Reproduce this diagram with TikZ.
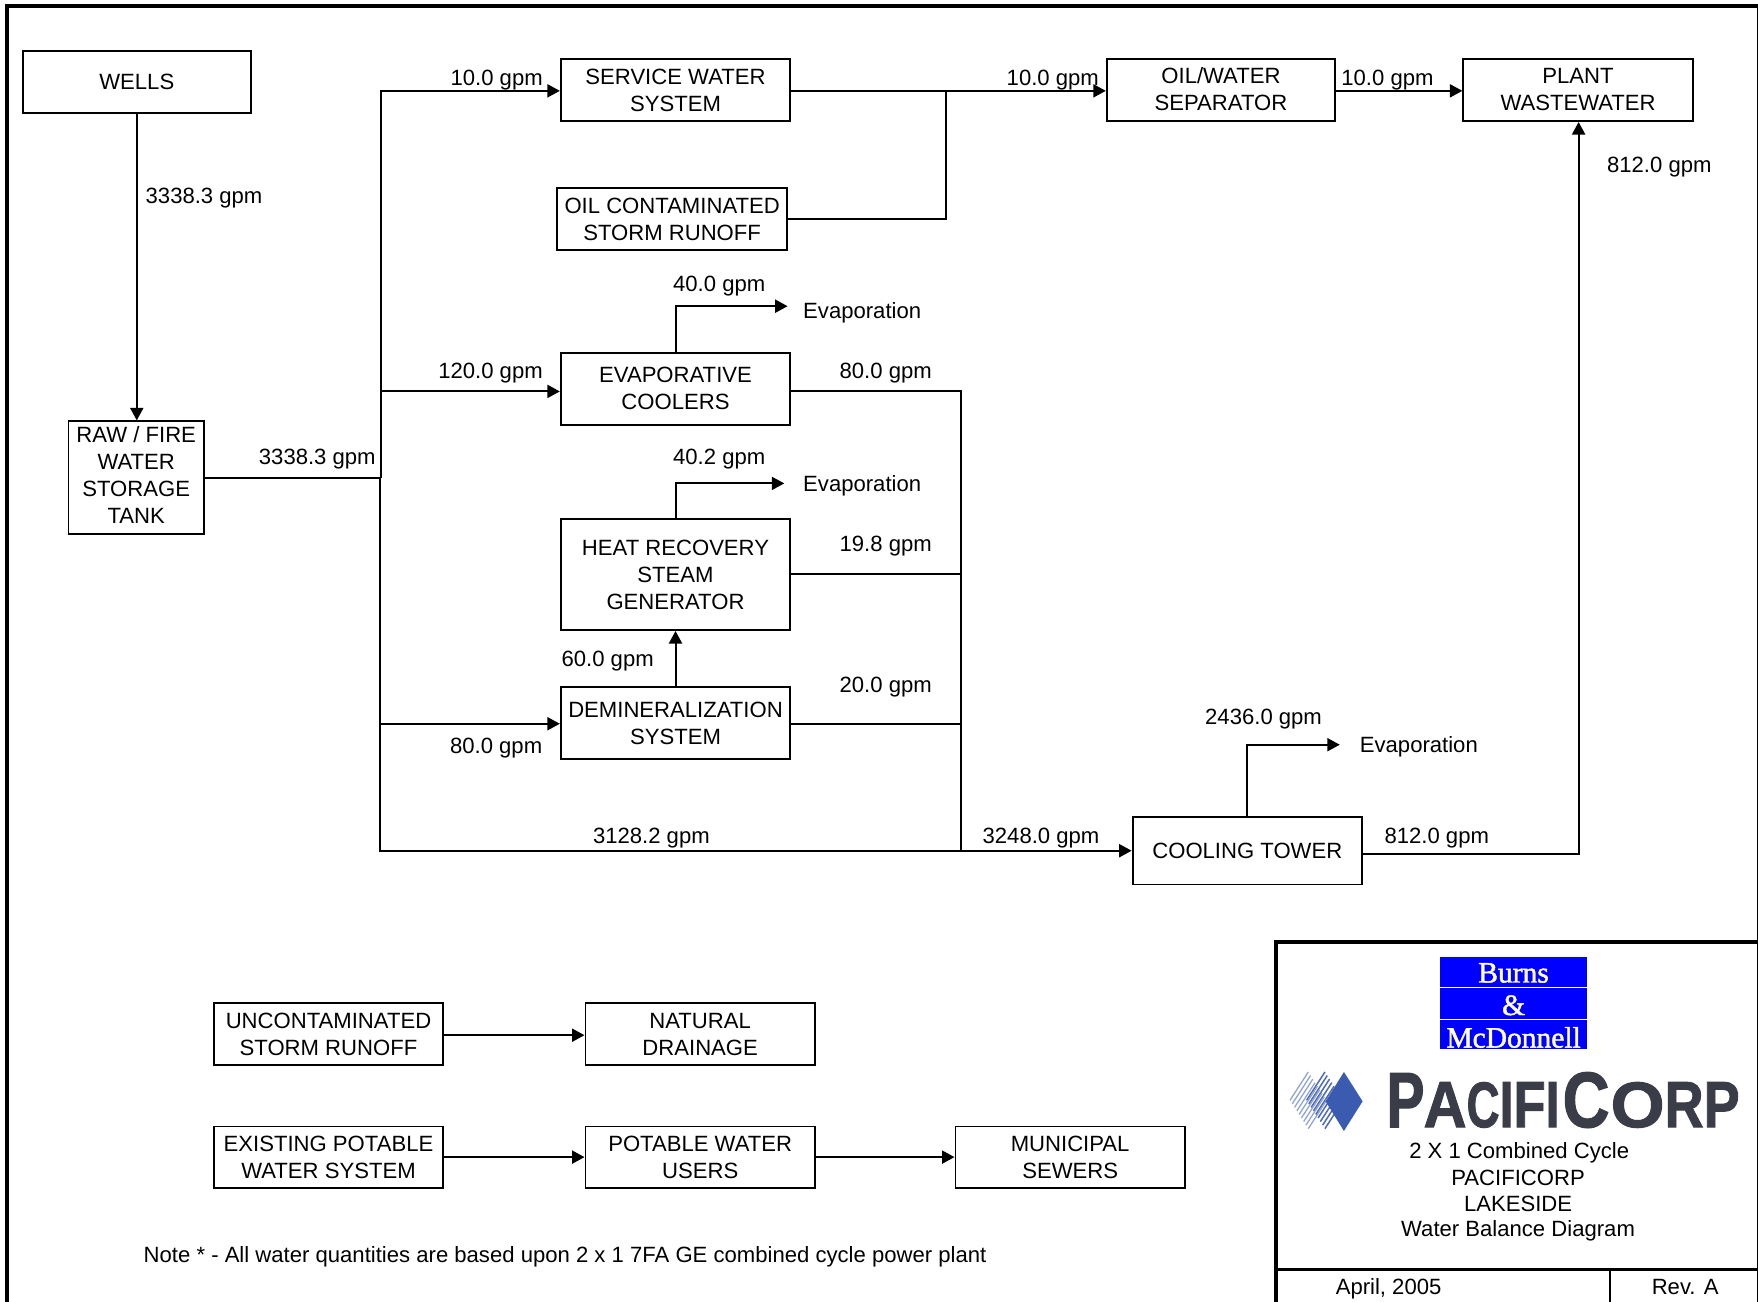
\documentclass[tikz,border=0pt]{standalone}
\usepackage{fontspec}
\usepackage{graphicx}
\setmainfont{Liberation Sans}
\newfontfamily\burnsfont[FakeBold=1.5]{Liberation Serif}
\newfontfamily\pcfont[FakeBold=1.5]{Liberation Sans}
\usetikzlibrary{arrows.meta,calc}
\definecolor{bmblue}{HTML}{0000FF}
\definecolor{pcgray}{HTML}{3A3D48}
\definecolor{pcblue}{HTML}{3A5BB0}
\tikzset{
  box/.style={draw=black,line width=1.9pt,fill=white,inner sep=0pt,align=center,font=\fontsize{22.1}{27}\selectfont},
  lab/.style={inner sep=0pt,font=\fontsize{22.1}{27}\selectfont,text height=16pt,text depth=4.6pt,yshift=-2pt},
  conn/.style={draw=black,line width=2pt,line join=miter},
  arr/.style={conn,-{Triangle[length=12.5pt,width=13pt]}},
  bmtxt/.style={inner sep=0pt,text=white,font=\burnsfont\fontsize{29.5}{30}\selectfont,text height=19pt,text depth=0pt},
  frameline/.style={draw=black,line cap=butt},
}
\newcommand{\boxat}[7]{%
  \node[box,minimum width=#4pt,minimum height=#5pt,#7] (#1) at (#2,#3) {#6};}
\newcommand{\pcl}[3]{\resizebox{#1pt}{#2pt}{#3}}
\begin{document}
\begin{tikzpicture}[x=1.12117pt,y=-1.12155pt]
\useasboundingbox (0,0) rectangle (1568,1160);
\begin{scope}
\clip (0,0) rectangle (1568,1160);
\fill[white] (0,0) rectangle (1568,1160);
% frame
\draw[frameline,line width=3.6pt] (6,1165) -- (6,5.1) -- (1570,5.1);
\draw[frameline,line width=2pt] (1567.6,5) -- (1567.6,1165);
% nodes
\boxat{wells}{122}{73.2}{228.4}{62.2}{WELLS}{}
\boxat{service}{602.5}{80.2}{229.4}{62.2}{SERVICE WATER\\SYSTEM}{}
\boxat{oilcont}{599.5}{195.2}{229.4}{62.2}{OIL CONTAMINATED\\STORM RUNOFF}{}
\boxat{oilwater}{1089}{80.2}{228.4}{62.2}{OIL/WATER\\SEPARATOR\rule[-2pt]{0pt}{1pt}}{}
\boxat{plant}{1407.5}{80.2}{229.4}{62.2}{PLANT\\WASTEWATER}{}
\boxat{evap}{602.5}{346.7}{229.4}{72.2}{EVAPORATIVE\\COOLERS}{}
\boxat{raw}{121.5}{425.7}{135.4}{112.2}{RAW / FIRE\\WATER\\STORAGE\\TANK\rule[-4.4pt]{0pt}{1pt}}{}
\boxat{hrsg}{602.5}{512.2}{229.4}{111.2}{HEAT RECOVERY\\STEAM\\GENERATOR}{}
\boxat{demin}{602.5}{644.7}{229.4}{72.2}{DEMINERALIZATION\\SYSTEM}{}
\boxat{tower}{1112.5}{758.7}{229.4}{67.2}{COOLING TOWER}{}
\boxat{uncont}{293}{922.2}{228.4}{62.2}{UNCONTAMINATED\\STORM RUNOFF}{}
\boxat{natural}{624.5}{922.2}{229.4}{62.2}{NATURAL\\DRAINAGE}{}
\boxat{existing}{293}{1031.7}{228.4}{61.2}{EXISTING POTABLE\\WATER SYSTEM}{}
\boxat{potable}{624.5}{1031.7}{229.4}{61.2}{POTABLE WATER\\USERS}{}
\boxat{municipal}{954.5}{1031.7}{229.4}{61.2}{MUNICIPAL\\SEWERS}{}
% free points
\coordinate (busA) at (340,81);
\coordinate (busB) at (339,426);
\coordinate (busC) at (339,758.5);
\coordinate (busE) at (340,349);
\coordinate (busF) at (340,645.3);
\coordinate (joinO) at (843.5,81);
\coordinate (ev1) at (702.5,273);
\coordinate (ev2) at (699.5,431);
\coordinate (ev3) at (1195,664);
\coordinate (ret) at (857,349);
\coordinate (retB) at (857,758.5);
\coordinate (cornerP) at (1408,761);
\coordinate (natY) at (395,923);
% connectors
\draw[arr] (wells.south) -- (wells.south |- raw.north);
\draw[conn] (raw.east |- busB) -- (busB) -- (busC) -- (retB);
\draw[arr] (busF |- busB) -- (busA) -- (service.west |- busA);
\draw[arr] (busE) -- (evap.west |- busE);
\draw[arr] (busF) -- (demin.west |- busF);
\draw[arr] (service.east |- busA) -- (oilwater.west |- busA);
\draw[conn] (oilcont.east) -| (joinO);
\draw[arr] (oilwater.east |- busA) -- (plant.west |- busA);
\draw[arr] (tower.east |- cornerP) -- (cornerP) -- (cornerP |- plant.south);
\draw[arr] (evap.north) |- (ev1);
\draw[arr] (hrsg.north) |- (ev2);
\draw[arr] (demin.north) -- (hrsg.south);
\draw[arr] (tower.north) |- (ev3);
\draw[conn] (evap.east |- ret) -- (ret) -- (retB);
\draw[conn] (hrsg.east) -- (ret |- hrsg.east);
\draw[conn] (demin.east |- busF) -- (ret |- busF);
\draw[arr] (retB) -- (tower.west |- retB);
\draw[arr] (uncont.east |- natY) -- (natural.west |- natY);
\draw[arr] (existing.east) -- (potable.west);
\draw[arr] (potable.east) -- (municipal.west);
% labels
\node[lab] (l1) at (182,175) {3338.3 gpm};
\node[lab] (l2) at (443,69) {10.0 gpm};
\node[lab] (l3) at (939,69) {10.0 gpm};
\node[lab] (l4) at (1237.5,69) {10.0 gpm};
\node[lab] (l5) at (1480,147) {812.0 gpm};
\node[lab] (l6) at (641.5,253) {40.0 gpm};
\node[lab] (l7) at (769,277) {Evaporation};
\node[lab] (l8) at (437.5,331) {120.0 gpm};
\node[lab] (l9) at (790,331) {80.0 gpm};
\node[lab] (l10) at (283,407) {3338.3 gpm};
\node[lab] (l11) at (641.5,407) {40.2 gpm};
\node[lab] (l12) at (769,431) {Evaporation};
\node[lab] (l13) at (790,485) {19.8 gpm};
\node[lab] (l14) at (542,587) {60.0 gpm};
\node[lab] (l15) at (790,611) {20.0 gpm};
\node[lab] (l16) at (442.5,665) {80.0 gpm};
\node[lab] (l17) at (1127,639) {2436.0 gpm};
\node[lab] (l18) at (1265.5,664) {Evaporation};
\node[lab] (l19) at (581,745) {3128.2 gpm};
\node[lab] (l20) at (928.5,745) {3248.0 gpm};
\node[lab] (l21) at (1281.5,745) {812.0 gpm};
\node[lab] (note) at (504,1119) {Note * - All water quantities are based upon 2 x 1 7FA GE combined cycle power plant};
% title block
\draw[frameline,line width=4pt] (1138,1165) -- (1138,840) -- (1570,840);
\draw[frameline,line width=2.6pt] (1138,1132) -- (1570,1132);
\draw[frameline,line width=2.6pt] (1436,1132) -- (1436,1165);
\fill[bmblue] (1284.3,853.5) rectangle (1415.4,935.4);
\draw[white,line width=1.2pt] (1284.3,880.5) -- (1415.4,880.5);
\draw[white,line width=1.2pt] (1284.3,909) -- (1415.4,909);
\node[bmtxt,anchor=base] (b1) at (1350,876) {Burns};
\node[bmtxt,anchor=base] (b2) at (1350,905) {\&};
\node[bmtxt,anchor=base] (b3) at (1350,934) {McDonnell};
% PacifiCorp logo
\node[inner sep=0pt,anchor=base west,text=pcgray,font=\pcfont\bfseries] (pc) at (1236.5,1005) {\hbox{%
\pcl{38}{54}{P}\kern-1pt
\pcl{43}{45}{A}%
\pcl{33}{45}{C}%
\pcl{14}{45}{I}%
\pcl{32}{45}{F}%
\pcl{14}{45}{I}\kern3pt
\pcl{47}{55}{C}\kern1pt
\pcl{54}{45}{O}%
\pcl{39}{45}{R}%
\pcl{36}{45}{P}}};
\begin{scope}[shift={(1141.6,945.4)},x=0.33333pt,y=-0.33333pt]
\foreach \s in {0,...,8}{
  \draw[pcblue!55,line width=1.3pt] ($(30,120)!{\s/8}!(85,205)$) -- ++(55,-85);
  \draw[pcblue!90,line width=1.5pt] ($(80,120)!{\s/8}!(135,205)$) -- ++(55,-85);
}
\fill[pcblue] (192,35) -- (248,123) -- (192,212) -- (137,123) -- cycle;
\end{scope}
\node[lab] (t1) at (1355,1026) {2 X 1 Combined Cycle};
\node[lab] (t2) at (1354,1050) {PACIFICORP};
\node[lab] (t3) at (1354,1073) {LAKESIDE};
\node[lab] (t4) at (1354,1096) {Water Balance Diagram};
\node[lab] (t5) at (1238.5,1147) {April, 2005};
\node[lab] (t6) at (1503,1147) {Rev. A};
\end{scope}
\end{tikzpicture}
\end{document}
